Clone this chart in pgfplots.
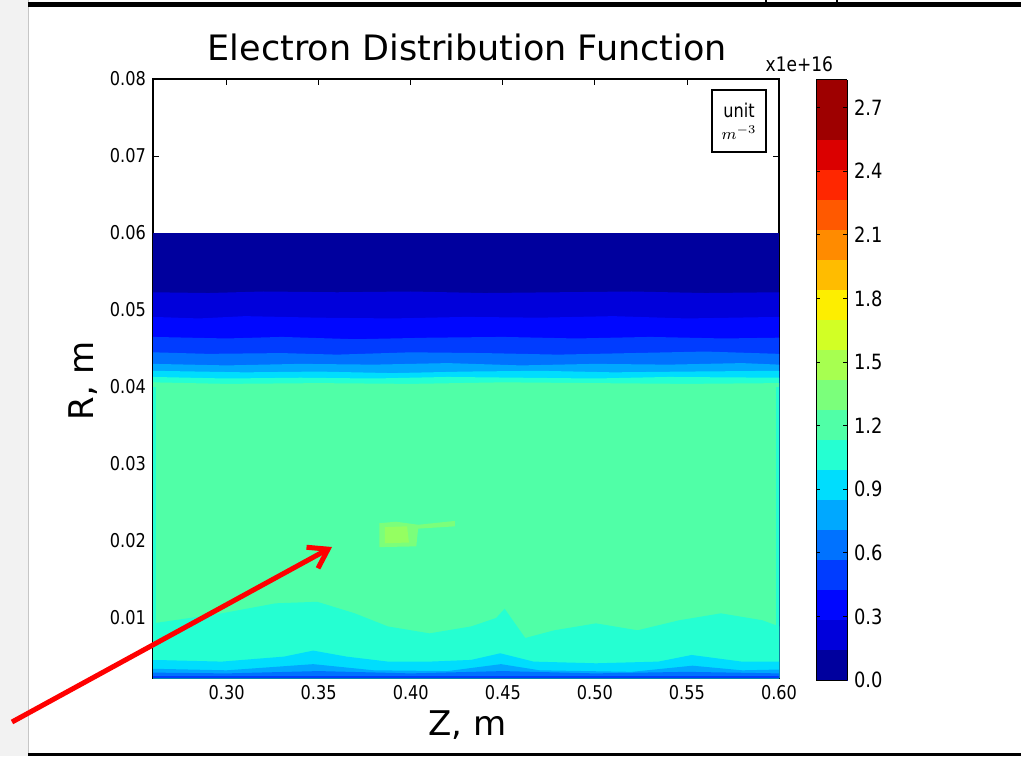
\documentclass[border=0pt]{standalone}
\usepackage{fontspec}
\setmainfont{DejaVu Sans}
\newfontfamily\tickfont[FakeStretch=0.85]{DejaVu Sans}
\usepackage{pgfplots}
\pgfplotsset{compat=1.18}
\usetikzlibrary{arrows.meta}

% jet colours, one per contour band
\definecolor{c0}{RGB}{0,0,158}
\definecolor{c1}{RGB}{0,0,219}
\definecolor{c2}{RGB}{0,7,255}
\definecolor{c3}{RGB}{0,60,255}
\definecolor{c4}{RGB}{0,114,255}
\definecolor{c5}{RGB}{0,168,255}
\definecolor{c6}{RGB}{0,221,253}
\definecolor{c7}{RGB}{37,255,210}
\definecolor{c8}{RGB}{80,255,167}
\definecolor{c9}{RGB}{123,255,123}
\definecolor{c10}{RGB}{167,255,80}

\begin{document}
\begin{tikzpicture}
\fill[white] (-76.5pt,-39pt) rectangle (434pt,339pt);
\useasboundingbox (-76.5pt,-39pt) rectangle (434pt,339pt);
% screenshot frame
\fill[gray!10] (-76.5pt,-39pt) rectangle (-62.5pt,339pt);
\draw[gray!45] (-62.5pt,-39pt) -- (-62.5pt,339pt);
\fill[black] (-62.5pt,335.5pt) rectangle (434pt,337.8pt);
\fill[black] (-62.5pt,-39pt) rectangle (434pt,-37.4pt);
\fill[black] (306pt,337pt) rectangle (307pt,339pt);
\fill[black] (341.5pt,337pt) rectangle (342.5pt,339pt);

\begin{axis}[
    at={(0,0)}, anchor=south west,
    scale only axis,
    width=313pt, height=299.5pt,
    xmin=0.26, xmax=0.60,
    ymin=0.0022, ymax=0.08,
    xtick={0.30,0.35,0.40,0.45,0.50,0.55,0.60},
    ytick={0.01,0.02,0.03,0.04,0.05,0.06,0.07,0.08},
    scaled x ticks=false, scaled y ticks=false,
    tick align=inside,
    major tick length=3pt,
    axis line style={line width=0.6pt},
    every tick/.style={black, line width=0.4pt},
    ticklabel style={font=\tickfont\fontsize{9.5}{11}\selectfont},
    /pgf/number format/assume math mode=true,
    xticklabel style={/pgf/number format/.cd, fixed, fixed zerofill, precision=2},
    yticklabel style={/pgf/number format/.cd, fixed, fixed zerofill, precision=2},
    title={Electron Distribution Function},
    title style={at={(axis description cs:0.502,1.0284)}, anchor=base, yshift=-5.5pt,
        font=\fontsize{17.5}{20}\selectfont},
    xlabel={Z, m},
    xlabel style={at={(axis description cs:0.502,-0.0952)}, anchor=base,
        font=\fontsize{17}{20}\selectfont},
    ylabel={R, m},
    ylabel style={at={(axis description cs:-0.0958,0.496)}, anchor=base,
        font=\fontsize{17}{20}\selectfont},
    point meta min=0, point meta max=2.83,
    colormap={jetbands}{
        rgb255=(0,0,158) rgb255=(0,0,219) rgb255=(0,7,255) rgb255=(0,60,255)
        rgb255=(0,114,255) rgb255=(0,168,255) rgb255=(0,221,253) rgb255=(37,255,210)
        rgb255=(80,255,167) rgb255=(123,255,123) rgb255=(167,255,80) rgb255=(210,255,37)
        rgb255=(253,238,0) rgb255=(255,188,0) rgb255=(255,139,0) rgb255=(255,89,0)
        rgb255=(255,39,0) rgb255=(219,0,0) rgb255=(158,0,0) rgb255=(158,0,0)},
    colormap access=piecewise constant,
    colorbar,
    colorbar style={
        at={(parent axis.north east)}, anchor=north west,
        xshift=10pt, yshift=-0.5pt,
        scale only axis,
        width=15.5pt, height=300pt,
        ytick={0,0.3,0.6,0.9,1.2,1.5,1.8,2.1,2.4,2.7},
        tick align=inside,
        major tick length=2pt,
        yticklabel pos=right,
        axis line style={line width=0.5pt},
        /pgf/number format/assume math mode=true,
        yticklabel style={font=\tickfont\fontsize{10.5}{12}\selectfont,
            /pgf/number format/.cd, fixed, fixed zerofill, precision=1},
    },
]
% filled contour bands, painted from the outside inwards
\addplot[fill=c0, draw=none] coordinates {(0.26,0.0600)(0.60,0.0600)} \closedcycle;
\addplot[fill=c1, draw=none] coordinates {(0.26,0.0523)(0.29,0.0522)(0.32,0.0524)(0.36,0.0523)(0.40,0.0524)(0.44,0.0522)(0.48,0.0523)(0.52,0.0524)(0.56,0.0522)(0.60,0.0523)} \closedcycle;
\addplot[fill=c2, draw=none] coordinates {(0.26,0.0491)(0.285,0.0489)(0.31,0.0492)(0.35,0.0490)(0.39,0.0489)(0.43,0.0491)(0.47,0.0490)(0.51,0.0492)(0.55,0.0489)(0.60,0.0491)} \closedcycle;
\addplot[fill=c3, draw=none] coordinates {(0.26,0.0465)(0.30,0.0463)(0.33,0.0465)(0.37,0.0462)(0.41,0.0464)(0.45,0.0465)(0.49,0.0463)(0.53,0.0465)(0.57,0.0463)(0.60,0.0464)} \closedcycle;
\addplot[fill=c4, draw=none] coordinates {(0.26,0.0445)(0.29,0.0443)(0.33,0.0444)(0.36,0.0442)(0.40,0.0445)(0.44,0.0444)(0.48,0.0442)(0.52,0.0444)(0.56,0.0446)(0.60,0.0443)} \closedcycle;
\addplot[fill=c5, draw=none] coordinates {(0.26,0.0430)(0.30,0.0428)(0.34,0.0430)(0.38,0.0429)(0.42,0.0431)(0.46,0.0428)(0.50,0.0430)(0.54,0.0429)(0.58,0.0431)(0.60,0.0429)} \closedcycle;
\addplot[fill=c6, draw=none] coordinates {(0.26,0.0421)(0.31,0.0419)(0.35,0.0420)(0.39,0.0418)(0.43,0.0420)(0.47,0.0421)(0.51,0.0419)(0.55,0.0420)(0.60,0.0421)} \closedcycle;
\addplot[fill=c7, draw=none] coordinates {(0.26,0.0413)(0.30,0.0411)(0.34,0.0412)(0.38,0.0411)(0.42,0.0413)(0.46,0.0412)(0.50,0.0411)(0.54,0.0413)(0.60,0.0412)} \closedcycle;
\addplot[fill=c8, draw=none] coordinates {(0.26,0.0406)(0.30,0.0404)(0.35,0.0405)(0.40,0.0404)(0.45,0.0406)(0.50,0.0405)(0.55,0.0404)(0.60,0.0405)} \closedcycle;
% lower rim, values fall again towards the axis
\addplot[fill=c7, draw=none] coordinates {(0.26,0.0093)(0.2973,0.0106)(0.3266,0.0119)(0.3492,0.0121)(0.3696,0.0106)(0.3876,0.0089)(0.4102,0.0080)(0.4328,0.0089)(0.4464,0.0100)(0.4510,0.0112)(0.4554,0.0097)(0.4622,0.0074)(0.4780,0.0084)(0.5006,0.0093)(0.5232,0.0084)(0.5458,0.0097)(0.5684,0.0106)(0.5910,0.0097)(0.60,0.0089)} \closedcycle;
\addplot[fill=c6, draw=none] coordinates {(0.26,0.00455)(0.2973,0.00433)(0.3312,0.00498)(0.3470,0.00576)(0.3651,0.00498)(0.3877,0.00433)(0.4103,0.00433)(0.4328,0.00455)(0.4486,0.00541)(0.4667,0.00433)(0.5006,0.00411)(0.5345,0.00433)(0.5526,0.00519)(0.5797,0.00433)(0.60,0.00433)} \closedcycle;
\addplot[fill=c5, draw=none] coordinates {(0.26,0.0034)(0.30,0.0032)(0.347,0.0040)(0.38,0.0032)(0.42,0.0031)(0.449,0.0040)(0.47,0.0032)(0.52,0.0030)(0.553,0.0038)(0.58,0.0032)(0.60,0.0033)} \closedcycle;
\addplot[fill=c4, draw=none] coordinates {(0.26,0.0029)(0.30,0.0028)(0.35,0.0031)(0.40,0.0028)(0.45,0.0031)(0.50,0.0028)(0.55,0.0030)(0.60,0.0028)} \closedcycle;
\addplot[fill=c3, draw=none] coordinates {(0.26,0.00245)(0.60,0.00245)} \closedcycle;
% side strips
\addplot[fill=c7, draw=none] coordinates {(0.26,0.0045)(0.2615,0.0045)(0.2615,0.0400)(0.26,0.0400)};
\addplot[fill=c7, draw=none] coordinates {(0.5985,0.0045)(0.60,0.0045)(0.60,0.0400)(0.5985,0.0400)};
% small maximum
\addplot[fill=c9, draw=none] coordinates {(0.383,0.0223)(0.392,0.0225)(0.404,0.0221)(0.424,0.0226)(0.424,0.0219)(0.404,0.0216)(0.403,0.0193)(0.383,0.0192)};
\addplot[fill=c10!60!c9, draw=none] coordinates {(0.386,0.0218)(0.398,0.0219)(0.399,0.0198)(0.386,0.0197)};
\end{axis}

\node[anchor=east, font=\tickfont\fontsize{10}{11}\selectfont] at (343.5pt,307pt) {x1e+16};
\node[draw, line width=0.6pt, minimum width=27pt, minimum height=31pt, align=center,
      inner sep=1pt, font=\tickfont\fontsize{9.5}{10}\selectfont] at (293pt,278.5pt)
      {unit\\[1pt]{\fontsize{8}{9}\selectfont$m^{-3}$}};
% annotation arrow
\draw[red, line width=2.5pt, -{Straight Barb[length=9pt,width=12pt]}] (-70.5pt,-22pt) -- (89.5pt,65.5pt);
\end{tikzpicture}
\end{document}
